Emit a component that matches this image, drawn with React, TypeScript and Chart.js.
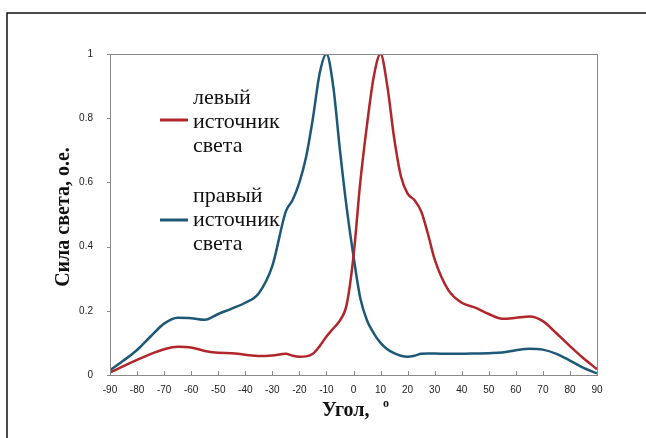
import React, { useEffect, useRef } from "react";
import { Chart, registerables } from "chart.js";

Chart.register(...registerables);

// Angle of observation, degrees
const angles = [
  -90, -85, -80, -75, -70, -65, -60, -55, -50, -45, -40, -35, -30, -25, -22.5, -20, -17.5, -15, -12.5, -10,
  -7.5, -5, -2.5, 0, 2.5, 5, 7.5, 10, 12.5, 15, 17.5, 20, 22.5, 25, 27.5, 30, 35, 40, 45, 50, 55, 60, 65,
  70, 75, 80, 85, 90,
];

// Relative light intensity, left source (peak at +10°)
const leftSource = [
  0.008, 0.028, 0.047, 0.065, 0.08, 0.088, 0.086, 0.075, 0.069, 0.068, 0.063, 0.059, 0.061, 0.066, 0.06, 0.057,
  0.058, 0.066, 0.09, 0.12, 0.145, 0.17, 0.22, 0.37, 0.6, 0.78, 0.93, 1.0, 0.9, 0.74, 0.62, 0.565, 0.545, 0.51,
  0.44, 0.36, 0.265, 0.225, 0.21, 0.19, 0.175, 0.178, 0.182, 0.168, 0.13, 0.09, 0.052, 0.018,
];

// Relative light intensity, right source (peak at -10°)
const rightSource = [
  0.015, 0.045, 0.078, 0.12, 0.16, 0.178, 0.177, 0.172, 0.19, 0.207, 0.225, 0.255, 0.34, 0.51, 0.545, 0.6,
  0.68, 0.8, 0.94, 1.0, 0.9, 0.7, 0.52, 0.37, 0.24, 0.17, 0.13, 0.1, 0.08, 0.068, 0.06, 0.057, 0.06, 0.066,
  0.067, 0.067, 0.066, 0.066, 0.067, 0.068, 0.07, 0.077, 0.082, 0.079, 0.066, 0.045, 0.022, 0.005,
];

const legendLeft = ["левый", "источник", "света"];
const legendRight = ["правый", "источник", "света"];
const yTitle = "Сила света, о.е.";
const xTitle = "Угол,";
const xTitleSup = "o";

const RED = "#b0262a";
const BLUE = "#1d5877";

const decorPlugin = {
  id: "decor",
  beforeDraw(chart: any) {
    const { ctx, width, height } = chart;
    ctx.save();
    ctx.fillStyle = "#ffffff";
    ctx.fillRect(0, 0, width, height);
    // outer frame
    ctx.strokeStyle = "#111111";
    ctx.lineWidth = 1.5;
    ctx.beginPath();
    ctx.moveTo(7, height);
    ctx.lineTo(7, 13);
    ctx.lineTo(width, 13);
    ctx.stroke();
    ctx.restore();
  },
  afterDraw(chart: any) {
    const { ctx, chartArea } = chart;
    const xs = chart.scales.x;
    const ys = chart.scales.y;
    ctx.save();
    // plot box
    ctx.strokeStyle = "#8a8a8a";
    ctx.lineWidth = 1;
    ctx.strokeRect(chartArea.left + 0.5, chartArea.top + 0.5, chartArea.right - chartArea.left, chartArea.bottom - chartArea.top);
    // tick marks
    ctx.beginPath();
    xs.ticks.forEach((t: any) => {
      const px = Math.round(xs.getPixelForValue(t.value)) + 0.5;
      ctx.moveTo(px, chartArea.bottom);
      ctx.lineTo(px, chartArea.bottom - 4);
    });
    ys.ticks.forEach((t: any) => {
      const py = Math.round(ys.getPixelForValue(t.value)) + 0.5;
      ctx.moveTo(chartArea.left, py);
      ctx.lineTo(chartArea.left - 3, py);
    });
    ctx.stroke();

    // legend
    ctx.fillStyle = "#111111";
    ctx.font = "22px 'Liberation Serif', 'Times New Roman', serif";
    ctx.textAlign = "left";
    ctx.textBaseline = "middle";
    legendLeft.forEach((s, i) => ctx.fillText(s, 193, 98 + i * 24));
    legendRight.forEach((s, i) => ctx.fillText(s, 193, 196 + i * 24));
    ctx.lineWidth = 3;
    ctx.strokeStyle = RED;
    ctx.beginPath();
    ctx.moveTo(160, 120);
    ctx.lineTo(188, 120);
    ctx.stroke();
    ctx.strokeStyle = BLUE;
    ctx.beginPath();
    ctx.moveTo(160, 220);
    ctx.lineTo(188, 220);
    ctx.stroke();

    // axis titles
    ctx.fillStyle = "#111111";
    ctx.font = "bold 20px 'Liberation Serif', 'Times New Roman', serif";
    ctx.textBaseline = "alphabetic";
    ctx.textAlign = "left";
    ctx.fillText(xTitle, 322, 416);
    ctx.font = "bold 12px 'Liberation Serif', 'Times New Roman', serif";
    ctx.fillText(xTitleSup, 383, 407);

    ctx.translate(64, 217);
    ctx.rotate(-Math.PI / 2);
    ctx.font = "bold 20px 'Liberation Serif', 'Times New Roman', serif";
    ctx.textAlign = "center";
    ctx.textBaseline = "middle";
    ctx.fillText(yTitle, 0, 0);
    ctx.restore();
  },
};

export default function App() {
  const ref = useRef<HTMLCanvasElement | null>(null);

  useEffect(() => {
    if (!ref.current) return;
    const chart = new Chart(ref.current, {
      type: "line",
      data: {
        datasets: [
          {
            label: "левый источник света",
            data: angles.map((a, i) => ({ x: a, y: leftSource[i] })),
            borderColor: RED,
            borderWidth: 2.5,
            pointRadius: 0,
            cubicInterpolationMode: "monotone",
            fill: false,
          },
          {
            label: "правый источник света",
            data: angles.map((a, i) => ({ x: a, y: rightSource[i] })),
            borderColor: BLUE,
            borderWidth: 2.5,
            pointRadius: 0,
            cubicInterpolationMode: "monotone",
            fill: false,
          },
        ],
      },
      options: {
        responsive: false,
        animation: false,
        events: [],
        layout: { padding: { left: 0, top: 54, right: 49, bottom: 0 } },
        plugins: { legend: { display: false }, tooltip: { enabled: false }, title: { display: false } },
        scales: {
          x: {
            type: "linear",
            min: -90,
            max: 90,
            afterFit: (s: any) => {
              s.height = 63;
            },
            grid: { display: false, drawTicks: false },
            border: { display: false },
            ticks: {
              stepSize: 10,
              autoSkip: false,
              maxRotation: 0,
              padding: 9,
              color: "#222222",
              font: { family: "Arial, 'Liberation Sans', sans-serif", size: 10 },
            },
          },
          y: {
            min: 0,
            max: 1,
            afterFit: (s: any) => {
              s.width = 110;
            },
            grid: { display: false, drawTicks: false },
            border: { display: false },
            ticks: {
              stepSize: 0.2,
              padding: 17,
              color: "#222222",
              font: { family: "Arial, 'Liberation Sans', sans-serif", size: 10 },
              callback: (v: any) => String(Math.round(Number(v) * 10) / 10),
            },
          },
        },
      },
      plugins: [decorPlugin],
    });
    return () => chart.destroy();
  }, []);

  return (
    <div style={{ position: "fixed", left: 0, top: 0, width: 646, height: 438, background: "#fff" }}>
      <canvas ref={ref} width={646} height={438} style={{ display: "block" }} />
    </div>
  );
}
